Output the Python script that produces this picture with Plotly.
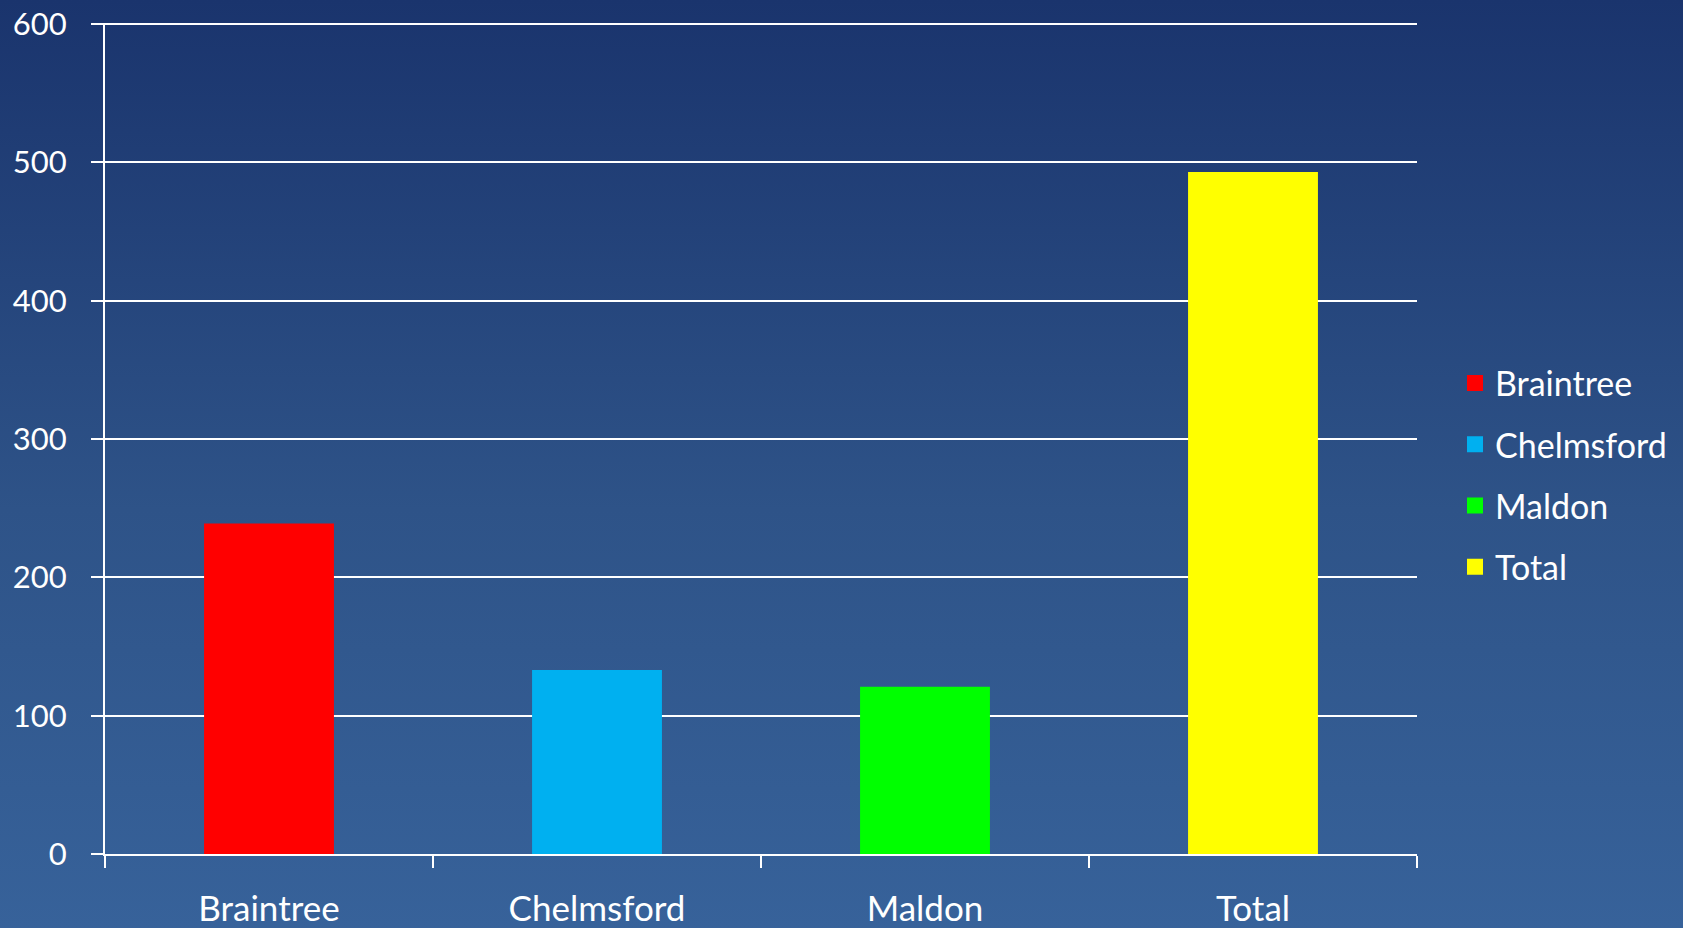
import base64
import plotly.graph_objects as go

categories = ["Braintree", "Chelmsford", "Maldon", "Total"]
values = [239, 133, 121, 493]
colors = ["#FF0000", "#00B0F0", "#00FF00", "#FFFF00"]
y_ticks = [0, 100, 200, 300, 400, 500, 600]

FONT = "Lato, 'Open Sans', sans-serif"

fig = go.Figure()
for cat, val, col in zip(categories, values, colors):
    fig.add_trace(go.Bar(x=[cat], y=[val], name=cat, marker=dict(color=col, line=dict(width=0)),
                         legendgroup=cat, showlegend=False))
    fig.add_trace(go.Scatter(x=[None], y=[None], mode="markers", name=cat, legendgroup=cat,
                             marker=dict(symbol="square", size=20, color=col, line=dict(width=0)),
                             showlegend=True))

svg = ('<svg xmlns="http://www.w3.org/2000/svg" width="100" height="100" preserveAspectRatio="none">'
       '<defs><linearGradient id="g" x1="0" y1="0" x2="0" y2="1">'
       '<stop offset="0" stop-color="#1a346d"/><stop offset="0.55" stop-color="#2e5388"/>'
       '<stop offset="1" stop-color="#37629a"/></linearGradient></defs>'
       '<rect width="100" height="100" fill="url(#g)"/></svg>')
src = "data:image/svg+xml;base64," + base64.b64encode(svg.encode()).decode()

W, H = 1683, 928
L, R, T, B = 105, 266, 23, 74
pw, ph = W - L - R, H - T - B

fig.update_layout(
    width=W, height=H,
    margin=dict(l=L, r=R, t=T, b=B, autoexpand=False),
    paper_bgcolor="#2e5388",
    plot_bgcolor="rgba(0,0,0,0)",
    barmode="overlay",
    bargap=0.604,
    font=dict(family=FONT, size=33, color="white"),
    images=[dict(source=src, xref="paper", yref="paper", x=-L / pw, y=1 + T / ph,
                 sizex=W / pw, sizey=H / ph, sizing="stretch", layer="below",
                 xanchor="left", yanchor="top")],
    legend=dict(x=(1455 - L) / pw, xanchor="left", y=(H - B - 475) / ph, yanchor="middle",
                font=dict(size=34, color="white"), bgcolor="rgba(0,0,0,0)",
                itemwidth=30, tracegroupgap=14),
    xaxis=dict(categoryorder="array", categoryarray=categories, automargin=False,
               showline=True, linecolor="white", linewidth=2,
               ticks="outside", tickson="boundaries", ticklen=12, tickcolor="white", tickwidth=2,
               showgrid=False, tickfont=dict(size=35, color="white"),
               ticklabelstandoff=23),
    yaxis=dict(range=[0, 600.8], tickvals=y_ticks, automargin=False,
               showline=True, linecolor="white", linewidth=2,
               ticks="outside", ticklen=12, tickcolor="white", tickwidth=2,
               showgrid=True, gridcolor="white", gridwidth=2, zeroline=False,
               tickfont=dict(size=31, color="white"), ticklabelstandoff=18),
)

fig.write_html("out.html", config={"displayModeBar": False},
               post_script="document.body.style.margin='0';document.body.style.padding='0';")
